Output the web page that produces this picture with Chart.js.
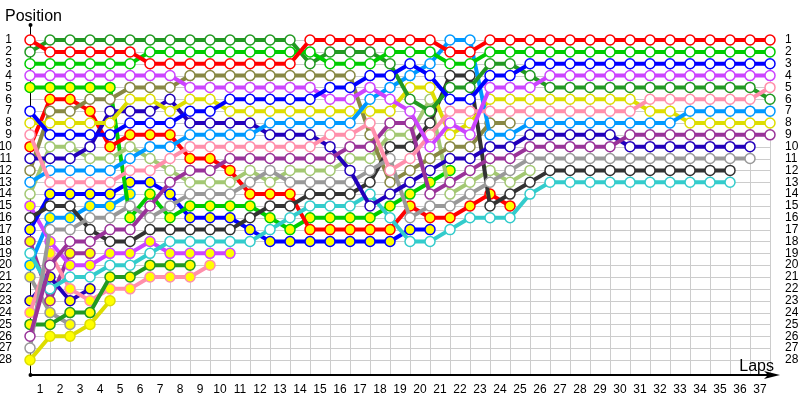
<!DOCTYPE html>
<html>
<head>
<meta charset="utf-8">
<script src="https://cdn.jsdelivr.net/npm/chart.js@4.4.0/dist/chart.umd.min.js"></script>
<style>
  html, body { margin: 0; padding: 0; background: #fff; }
  #wrap { width: 800px; height: 400px; }
</style>
</head>
<body>
<div id="wrap"><canvas id="lapChart" width="800" height="400"></canvas></div>
<script>
// Tick labels
const lapLabels = Array.from({ length: 37 }, (_, i) => i + 1);
const posLabels = Array.from({ length: 28 }, (_, i) => i + 1);

// Position of each driver per lap (index = lap, lap 0 = grid)
const redA     = [1,2,2,2,2,2,3,3,3,3,3,3,3,3,1,1,1,1,1,1,1,2,2,1,1,1,1,1,1,1,1,1,1,1,1,1,1,1];
const greenA   = [3,3,3,3,3,3,2,2,2,2,2,2,2,2,2,3,3,3,2,2,2,3,3,2,2,2,2,2,2,2,2,2,2,2,2,2,2,2];
const blueA    = [7,9,9,9,9,8,8,8,7,7,6,6,6,6,6,5,5,4,4,3,4,6,6,4,4,3,3,3,3,3,3,3,3,3,3,3,3,3];
const violetA  = [4,4,4,4,4,4,4,4,5,5,5,5,5,5,5,6,6,5,6,7,10,8,9,5,5,5,4,4,4,4,4,4,4,4,4,4,4,4];
const pinkA    = [9,13,13,13,13,12,12,11,10,10,10,10,10,10,10,9,9,8,12,11,9,7,7,7,7,7,7,7,7,7,7,6,6,6,6,6,6,5];
const dkGreenA = [2,1,1,1,1,1,1,1,1,1,1,1,1,1,3,2,2,2,3,6,7,5,5,3,3,4,5,5,5,5,5,5,5,5,5,5,5,6];
const ltBlueA  = [13,12,12,12,12,11,10,10,9,9,9,9,8,8,8,8,8,6,5,4,3,1,1,9,9,8,8,8,8,8,8,8,8,7,7,7,7,7];
const yellowA  = [8,8,8,8,8,6,6,7,6,6,7,7,7,7,7,7,7,7,7,5,5,9,8,6,6,6,6,6,6,6,6,7,7,8,8,8,8,8];
const purpleA  = [26,20,18,18,17,17,15,13,12,12,11,11,11,11,11,11,10,10,8,8,14,13,12,11,11,10,10,10,10,10,9,9,9,9,9,9,9,9];
const navyA    = [11,11,11,10,7,7,7,6,8,8,8,8,9,9,9,10,12,15,14,13,12,11,11,10,10,9,9,9,9,9,10,10,10,10,10,10,10];
const grayA    = [27,17,17,16,16,15,16,15,14,14,14,13,12,13,13,13,13,12,11,16,15,15,14,13,12,11,11,11,11,11,11,11,11,11,11,11,11];
const darkA    = [16,15,15,17,18,18,17,17,17,17,17,16,15,15,14,14,14,13,10,10,8,4,4,15,14,13,12,12,12,12,12,12,12,12,12,12];
const cyanA    = [19,22,21,21,20,20,19,18,18,18,18,18,17,16,15,15,15,14,16,18,18,17,16,16,16,14,13,13,13,13,13,13,13,13,13,13];
const oliveA   = [12,7,7,6,6,5,5,5,4,4,4,4,4,4,4,4,4,9,13,12,11,10,10,8,8];
const ltGreenA = [14,10,10,11,11,10,11,12,13,13,13,12,13,12,12,12,11,11,9,9,6,14,13,12,13,12];
const redB     = [10,6,6,7,10,9,9,9,11,11,12,14,14,14,17,17,17,17,17,15,16,16,15,14,15];
const greenB   = [5,5,5,5,5,16,14,16,15,15,15,15,16,17,16,16,16,16,15,14,13,12];
const blueB    = [17,14,14,14,14,13,13,14,16,16,16,17,18,18,18,18,18,18,18,17,17];
const violetB  = [15,18,20,20,19,19,18,19,19,19,19];
const dkGreenB = [25,25,24,24,21,21,20,20,20];
const pinkB    = [24,19,22,23,22,22,21,21,21,20];
const ltBlueB  = [20,16,16,15,15,14];
const navyB    = [23,21,23,22];
const purpleB  = [18,23,19,19];
const grayB    = [21,24,25];
const yellowB  = [28,26,26,25,23];

const HOLLOW = '#ffffff';
const FILLED = '#ffff00';

// drawn on top first
const drivers = [
  { label: 'Red 1',        pos: redA,     color: '#ff0000', fill: HOLLOW },
  { label: 'Green 1',      pos: greenA,   color: '#00cc00', fill: HOLLOW },
  { label: 'Blue 1',       pos: blueA,    color: '#0000ff', fill: HOLLOW },
  { label: 'Violet 1',     pos: violetA,  color: '#cc44ff', fill: HOLLOW },
  { label: 'Pink 1',       pos: pinkA,    color: '#ff8fab', fill: HOLLOW },
  { label: 'Dark green 1', pos: dkGreenA, color: '#229922', fill: HOLLOW },
  { label: 'Light blue 1', pos: ltBlueA,  color: '#0099ff', fill: HOLLOW },
  { label: 'Yellow 1',     pos: yellowA,  color: '#dddd00', fill: HOLLOW },
  { label: 'Purple 1',     pos: purpleA,  color: '#993399', fill: HOLLOW },
  { label: 'Navy 1',       pos: navyA,    color: '#2200bb', fill: HOLLOW },
  { label: 'Gray 1',       pos: grayA,    color: '#999999', fill: HOLLOW },
  { label: 'Dark 1',       pos: darkA,    color: '#333333', fill: HOLLOW },
  { label: 'Cyan 1',       pos: cyanA,    color: '#33cccc', fill: HOLLOW },
  { label: 'Olive 1',      pos: oliveA,   color: '#888844', fill: HOLLOW },
  { label: 'Lime 1',       pos: ltGreenA, color: '#a3c873', fill: HOLLOW },
  { label: 'Red 2',        pos: redB,     color: '#ff0000', fill: FILLED },
  { label: 'Green 2',      pos: greenB,   color: '#00cc00', fill: FILLED },
  { label: 'Blue 2',       pos: blueB,    color: '#0000ff', fill: FILLED },
  { label: 'Violet 2',     pos: violetB,  color: '#cc44ff', fill: FILLED },
  { label: 'Dark green 2', pos: dkGreenB, color: '#229922', fill: FILLED },
  { label: 'Pink 2',       pos: pinkB,    color: '#ff8fab', fill: FILLED },
  { label: 'Light blue 2', pos: ltBlueB,  color: '#0099ff', fill: FILLED },
  { label: 'Navy 2',       pos: navyB,    color: '#2200bb', fill: FILLED },
  { label: 'Purple 2',     pos: purpleB,  color: '#993399', fill: FILLED },
  { label: 'Gray 2',       pos: grayB,    color: '#999999', fill: FILLED },
  { label: 'Yellow 2',     pos: yellowB,  color: '#dddd00', fill: FILLED }
];

const datasets = drivers.map(d => ({
  label: d.label,
  data: d.pos.map((p, lap) => ({ x: lap, y: p })),
  borderColor: d.color,
  backgroundColor: d.color,
  borderWidth: 4,
  pointRadius: 5,
  pointBorderWidth: 1.5,
  pointBorderColor: d.color,
  pointBackgroundColor: d.fill,
  tension: 0,
  clip: false
}));

const tickFont = { family: '"Liberation Sans", Arial, sans-serif', size: 12 };

// grid, axes with arrow and the two axis titles
const lapChartDecor = {
  id: 'lapChartDecor',
  beforeDatasetsDraw(chart) {
    const { ctx, chartArea } = chart;
    const xs = chart.scales.x, ys = chart.scales.y;
    const x0 = xs.getPixelForValue(0), x1 = xs.getPixelForValue(37);
    const yTop = ys.getPixelForValue(1), yBot = chartArea.bottom;
    ctx.save();
    ctx.strokeStyle = '#cccccc';
    ctx.lineWidth = 1;
    ctx.beginPath();
    posLabels.forEach(p => {
      const y = Math.round(ys.getPixelForValue(p)) + 0.5;
      ctx.moveTo(x0, y); ctx.lineTo(x1, y);
    });
    for (let l = 1; l <= 37; l++) {
      const x = Math.round(xs.getPixelForValue(l)) + 0.5;
      ctx.moveTo(x, yTop); ctx.lineTo(x, yBot);
    }
    ctx.stroke();

    // axes
    ctx.strokeStyle = '#000';
    ctx.fillStyle = '#000';
    ctx.lineWidth = 1;
    ctx.beginPath();
    ctx.moveTo(x0 + 0.5, chartArea.top);
    ctx.lineTo(x0 + 0.5, yBot);
    ctx.stroke();
    ctx.beginPath();
    ctx.arc(x0 + 0.5, chartArea.top, 2, 0, Math.PI * 2);
    ctx.arc(x0 + 0.5, yBot, 2, 0, Math.PI * 2);
    ctx.fill();
    ctx.lineWidth = 2;
    ctx.beginPath();
    ctx.moveTo(x0, yBot);
    ctx.lineTo(x1 + 6, yBot);
    ctx.stroke();
    ctx.beginPath();
    ctx.moveTo(x1 - 6, yBot - 4);
    ctx.lineTo(x1 + 10, yBot);
    ctx.lineTo(x1 - 6, yBot + 4);
    ctx.lineTo(x1 - 2, yBot);
    ctx.closePath();
    ctx.fill();

    ctx.font = '16px "Liberation Sans", Arial, sans-serif';
    ctx.textBaseline = 'alphabetic';
    ctx.textAlign = 'left';
    ctx.fillText('Position', 5, 21);
    ctx.textAlign = 'right';
    ctx.fillText('Laps', x1 + 4, yBot - 4);
    ctx.restore();
  }
};

const yCommon = {
  type: 'linear',
  reverse: true,
  min: -0.27,
  max: 29.27,
  grid: { display: false },
  border: { display: false },
  afterBuildTicks: s => { s.ticks = posLabels.map(v => ({ value: v })); }
};

new Chart(document.getElementById('lapChart').getContext('2d'), {
  type: 'line',
  data: { datasets },
  options: {
    responsive: false,
    animation: false,
    events: [],
    layout: { padding: { top: 25, left: 0, right: 0, bottom: 0 } },
    plugins: { legend: { display: false }, tooltip: { enabled: false } },
    scales: {
      x: {
        type: 'linear',
        min: 0,
        max: 37,
        grid: { display: false, drawTicks: false },
        border: { display: false },
        afterBuildTicks: s => { s.ticks = lapLabels.map(v => ({ value: v })); },
        afterFit: s => { s.height = 25; },
        ticks: { autoSkip: false, maxRotation: 0, labelOffset: -10, padding: 7, color: '#000', font: tickFont }
      },
      y: {
        ...yCommon,
        position: 'left',
        afterFit: s => { s.width = 30; },
        ticks: { padding: 10, color: '#000', font: tickFont, autoSkip: false }
      },
      y2: {
        ...yCommon,
        position: 'right',
        afterFit: s => { s.width = 30; },
        ticks: { padding: 7, color: '#000', font: tickFont, autoSkip: false }
      }
    }
  },
  plugins: [lapChartDecor]
});
</script>
</body>
</html>
